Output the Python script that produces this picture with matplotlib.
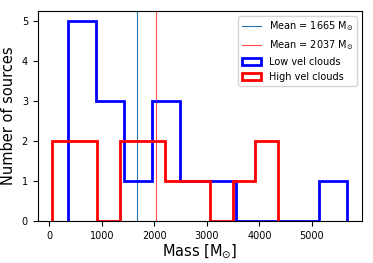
'''
Mass distribution of low and high velocity clouds.
'''

import numpy as np
import matplotlib.pyplot as plt

################################################################
# Data

# Low velocity clouds: 10 bins between min and max mass
low_edges = [355, 887, 1420, 1952, 2484, 3017, 3549, 4081, 4614, 5146, 5679]
low_counts = [5, 3, 1, 3, 1, 1, 0, 0, 0, 1]
low_mean = 1665

# High velocity clouds
high_edges = [57, 486, 915, 1344, 1773, 2202, 2631, 3060, 3489, 3918, 4348]
high_counts = [2, 2, 0, 2, 2, 1, 1, 0, 1, 2]
high_mean = 2037

################################################################
# Plot
plt.rcParams['font.size'] = 7

fig = plt.figure(figsize=(3.73, 2.63), dpi=100)
ax = fig.add_axes([0.101, 0.160, 0.870, 0.799])

ax.axvline(low_mean, color='C0', lw=0.8, label='Mean = {:d} M$_{{\\odot}}$'.format(low_mean))
ax.axvline(high_mean, color='red', lw=0.8, alpha=0.7, label='Mean = {:d} M$_{{\\odot}}$'.format(high_mean))

lo = np.array(low_edges, dtype=float)
hi = np.array(high_edges, dtype=float)
ax.hist(lo[:-1], bins=lo, weights=low_counts, histtype='step', color='blue', lw=2, label='Low vel clouds')
ax.hist(hi[:-1], bins=hi, weights=high_counts, histtype='step', color='red', lw=2, label='High vel clouds')

ax.set_xlabel('Mass [M$_{\\odot}$]', fontsize=10.5, labelpad=1)
ax.set_ylabel('Number of sources', fontsize=10.5)
ax.legend(loc='upper right', fontsize=7)

fig.savefig('out.png', dpi=100)
